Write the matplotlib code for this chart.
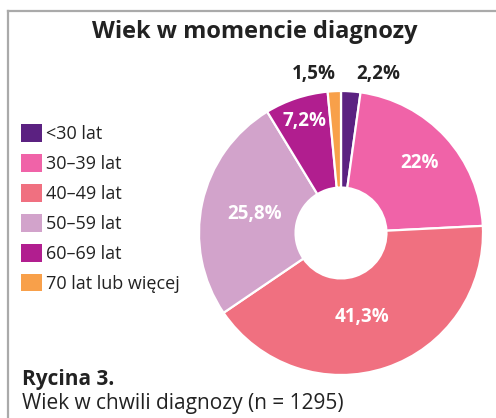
import numpy as np
import matplotlib
matplotlib.use('Agg')
import matplotlib.pyplot as plt
from matplotlib.patches import Patch
from matplotlib.lines import Line2D

plt.rcParams['font.family'] = ['Open Sans', 'DejaVu Sans']

# Dane
kategorie = ['<30 lat', '30–39 lat', '40–49 lat', '50–59 lat', '60–69 lat', '70 lat lub więcej']
wartosci = [2.2, 22.0, 41.3, 25.8, 7.2, 1.5]
etykiety = ['2,2%', '22%', '41,3%', '25,8%', '7,2%', '1,5%']
kolory = ['#5B2181', '#F063A8', '#F07080', '#D2A3CB', '#B11E8F', '#F8A04A']

# ustawienia etykiet (odleglosc od srodka, przesuniecie kata, kolor)
odl = [1.15, 0.74, 0.61, 0.62, 0.83, 1.135]
przes = [-9.4, -1, -4.5, 0, -0.5, 6.9]
kol_txt = ['#222222', 'white', 'white', 'white', 'white', '#222222']

W, H = 496, 418
fig = plt.figure(figsize=(W / 100, H / 100), dpi=100)

# ramka (tylko gora i lewa strona widoczna)
fig.add_artist(Line2D([7.5 / W, 7.5 / W], [0, 1 - 11 / H], color='#AAAAAA', lw=1.6,
                      transform=fig.transFigure))
fig.add_artist(Line2D([7.5 / W, 1], [1 - 11 / H, 1 - 11 / H], color='#AAAAAA', lw=1.6,
                      transform=fig.transFigure))

# wykres
cx, cy, r = 341, 233, 142
ax = fig.add_axes([(cx - r) / W, (H - cy - r) / H, 2 * r / W, 2 * r / H])
wedges, _ = ax.pie(wartosci, colors=kolory, startangle=90, counterclock=False,
                   wedgeprops=dict(width=0.68, edgecolor='white', linewidth=1.6))
ax.set_xlim(-1, 1)
ax.set_ylim(-1, 1)
ax.set_aspect('equal')

for w, et, d, p, c in zip(wedges, etykiety, odl, przes, kol_txt):
    kat = np.deg2rad((w.theta1 + w.theta2) / 2 + p)
    ax.text(d * np.cos(kat), d * np.sin(kat), et, ha='center', va='center',
            fontsize=13.5, fontweight='bold', color=c, clip_on=False)

fig.text(255 / W, 1 - 32 / H, 'Wiek w momencie diagnozy', ha='center', va='center',
         fontsize=17, fontweight='bold', color='#222222')

uchwyty = [Patch(facecolor=k, edgecolor='none') for k in kolory]
fig.legend(uchwyty, kategorie, loc='upper left', bbox_to_anchor=(21 / W, 1 - 124 / H),
           frameon=False, fontsize=13, handlelength=1.15, handleheight=1.15,
           handletextpad=0.25, labelspacing=0.6, borderpad=0, borderaxespad=0,
           labelcolor='#222222')

fig.text(22 / W, 1 - 380 / H, 'Rycina 3.', ha='left', va='center',
         fontsize=15, fontweight='bold', color='#222222')
fig.text(22 / W, 1 - 404 / H, 'Wiek w chwili diagnozy (n = 1295)', ha='left', va='center',
         fontsize=15, color='#222222')

fig.savefig('out.png', dpi=100)
